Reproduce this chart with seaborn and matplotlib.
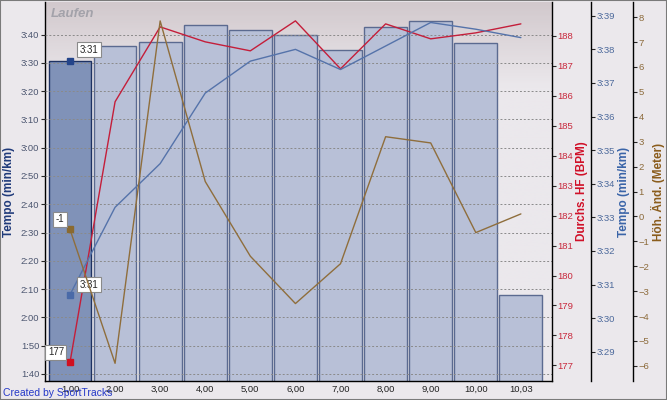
import numpy as np
import matplotlib
matplotlib.use("Agg")
import matplotlib.pyplot as plt
from matplotlib.ticker import FuncFormatter
from matplotlib.colors import LinearSegmentedColormap
from matplotlib.patches import Rectangle
import seaborn as sns

# lap data
km_labels = ["1,00", "2,00", "3,00", "4,00", "5,00", "6,00", "7,00", "8,00", "9,00", "10,00", "10,03"]
lap_pace_s = [210.7, 215.9, 217.3, 223.2, 221.6, 219.9, 214.6, 222.8, 224.7, 217.1, 127.9]
avg_hr = [177.1, 185.8, 188.3, 187.8, 187.5, 188.5, 186.9, 188.4, 187.9, 188.1, 188.4]
avg_pace_s = [210.7, 213.3, 214.6, 216.7, 217.65, 218.0, 217.4, 218.1, 218.8, 218.6, 218.35]
elev_change = [-0.52, -5.9, 7.85, 1.4, -1.6, -3.5, -1.9, 3.2, 2.95, -0.65, 0.1]
selected = 0

sns.set_style("white")
plt.rcParams['font.family'] = ['Liberation Sans', 'DejaVu Sans']

def mmss(v, pos=None):
    v = int(round(v))
    return f"{v // 60}:{v % 60:02d}"

c_bar = "#b8c0d7"
c_bar_sel = "#8092b8"
c_hr = "#c41e3a"
c_pace = "#5573aa"
c_elev = "#8f6e3c"

fig = plt.figure(figsize=(6.67, 4.0), dpi=100)
fig.patch.set_facecolor("#ebe8ec")
rect = [45 / 667, 19 / 400, 507 / 667, 379 / 400]

# gradient background of plot area
bg = fig.add_axes(rect, zorder=-1)
cmap = LinearSegmentedColormap.from_list("bg", [(0, "#d2c9cd"), (0.22, "#ebe8ec"), (1, "#ebe8ec")])
bg.imshow(np.linspace(0, 1, 200).reshape(-1, 1), cmap=cmap, aspect="auto", extent=[0, 1, 0, 1])
bg.axis("off")

ax = fig.add_axes(rect)
ax.patch.set_alpha(0)
pos = np.arange(len(km_labels))

sns.barplot(x=km_labels, y=lap_pace_s, ax=ax, color=c_bar, width=0.95,
            edgecolor="#5b6a90", linewidth=1, saturation=1)
ax.patches[selected].set_facecolor(c_bar_sel)
ax.patches[selected].set_edgecolor("#1e3263")
ax.set_xlim(-0.554, 10.69)
ax.set_ylim(97.5, 231.5)
ax.set_yticks(np.arange(100, 221, 10))
ax.yaxis.set_major_formatter(FuncFormatter(mmss))
ax.grid(axis="y", color="#8a8a8a", linestyle=(0, (2, 2)), linewidth=0.7)
ax.set_axisbelow(False)
ax.set_ylabel("Tempo (min/km)", color="#1f3a7a", fontweight="bold", fontsize=8.5, labelpad=4)
ax.set_xlabel("")
ax.tick_params(axis="y", length=3, width=0.8, labelsize=6.8, labelcolor="#4c5670", pad=1)
ax.tick_params(axis="x", length=0, labelsize=6.8, labelcolor="#222222", pad=3)
for s in ["top", "right"]:
    ax.spines[s].set_visible(False)
for s in ["left", "bottom"]:
    ax.spines[s].set_color("black")
    ax.spines[s].set_linewidth(1)
ax.plot(pos[selected], lap_pace_s[selected], marker="s", ms=4.5, color="#24448a", zorder=5)
ax.annotate(mmss(lap_pace_s[selected]), (pos[selected], lap_pace_s[selected]),
            xytext=(19, 11), textcoords="offset pixels", ha="center", va="center", fontsize=7,
            bbox=dict(boxstyle="square,pad=0.25", fc="white", ec="#8a8a8a", lw=0.8), zorder=6)

ax.text(0.012, 0.985, "Laufen", transform=ax.transAxes, ha="left", va="top",
        fontsize=9.5, fontweight="bold", fontstyle="italic", color="#a3a2aa")

def side_axis(offset, color_ticks, lo, hi, ticks):
    tw = ax.twinx()
    tw.spines["right"].set_position(("axes", offset))
    for s in ["top", "left", "bottom"]:
        tw.spines[s].set_visible(False)
    tw.spines["right"].set_color("black")
    tw.spines["right"].set_linewidth(1)
    tw.set_ylim(lo, hi)
    tw.set_yticks(ticks)
    tw.tick_params(axis="y", length=3, width=0.8, labelsize=6.8, labelcolor=color_ticks, pad=1)
    return tw

ax_hr = side_axis(1.0, "#c8283c", 176.48, 189.13, np.arange(177, 189))
sns.lineplot(x=pos, y=avg_hr, ax=ax_hr, color=c_hr, linewidth=1, legend=False)
ax_hr.set_ylabel("Durchs. HF (BPM)", color="#d01028", fontweight="bold", fontsize=8.5, labelpad=2)

ax_pace = side_axis(1.077, "#4d6a9c", 208.13, 219.41, np.arange(209, 220))
ax_pace.yaxis.set_major_formatter(FuncFormatter(mmss))
sns.lineplot(x=pos, y=avg_pace_s, ax=ax_pace, color=c_pace, linewidth=1, legend=False)
ax_pace.set_ylabel("Tempo (min/km)", color="#3a64a8", fontweight="bold", fontsize=8.5, labelpad=2)

ax_elev = side_axis(1.16, "#8c6a3a", -6.61, 8.61, np.arange(-6, 9))
sns.lineplot(x=pos, y=elev_change, ax=ax_elev, color=c_elev, linewidth=1, legend=False)
ax_elev.set_ylabel("Höh. Änd. (Meter)", color="#8a5c1c", fontweight="bold", fontsize=8.5, labelpad=1)

box = dict(boxstyle="square,pad=0.25", fc="white", ec="#8a8a8a", lw=0.8)
for a, vals, col, txt, off in [
    (ax_elev, elev_change, "#8a6a30", f"{round(elev_change[selected])}", (-10, 10)),
    (ax_pace, avg_pace_s, "#4a6aa8", mmss(avg_pace_s[selected]), (19, 10)),
    (ax_hr, avg_hr, "#d01020", f"{round(avg_hr[selected])}", (-14, 10)),
]:
    a.plot(pos[selected], vals[selected], marker="s", ms=4.5, color=col, zorder=5)
    a.annotate(txt, (pos[selected], vals[selected]), xytext=off, textcoords="offset pixels",
               ha="center", va="center", fontsize=7, bbox=box, zorder=6)

for a in [ax_hr, ax_pace, ax_elev]:
    a.set_xlim(-0.554, 10.69)

fig.text(3 / 667, 7 / 400, "Created by SportTracks", color="#2438c8", fontsize=7.5, ha="left", va="center")
fig.patches.append(Rectangle((0, 0), 1, 1, transform=fig.transFigure, fill=False,
                             edgecolor="#7a7a7a", linewidth=1.5))

fig.savefig("out.png", dpi=100, facecolor=fig.get_facecolor())
